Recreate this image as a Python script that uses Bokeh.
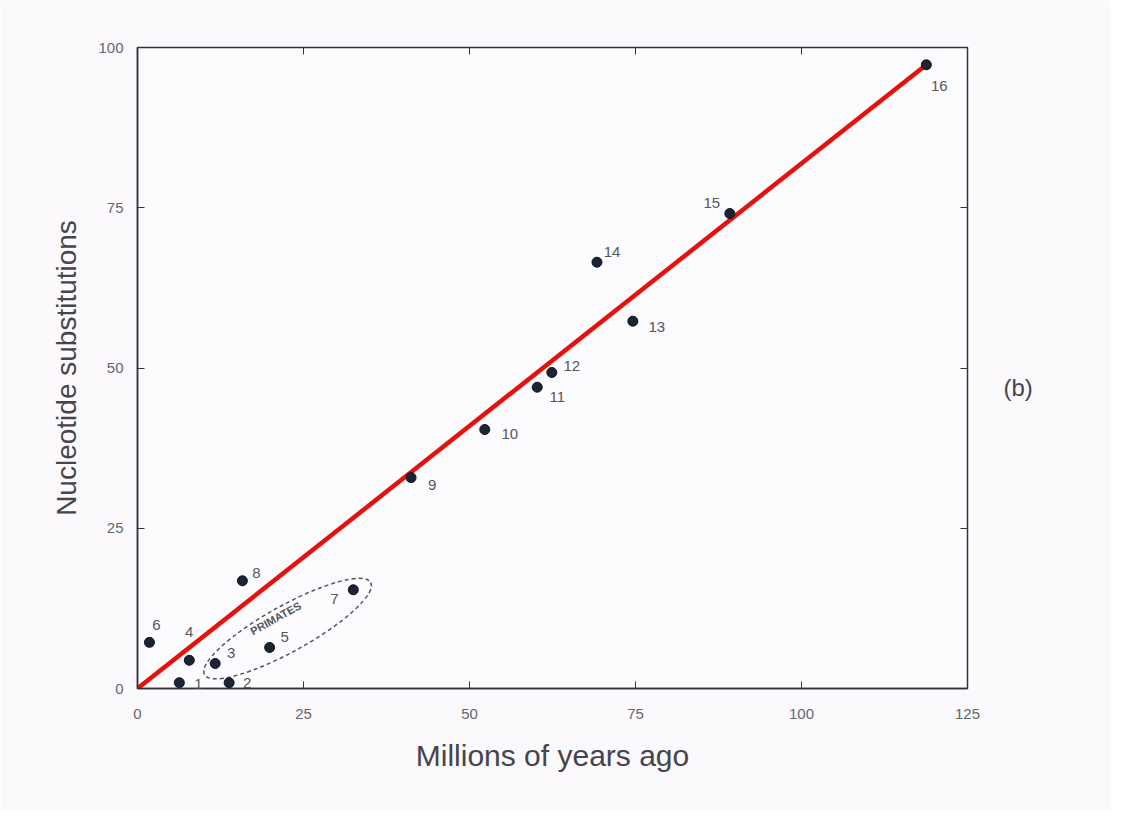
import math
from bokeh.plotting import figure
from bokeh.models import (Range1d, LinearAxis, FixedTicker, ColumnDataSource,
                          LabelSet)
from bokeh.core.properties import value
from bokeh.embed import file_html
from bokeh.resources import INLINE

# ---- data ----
labels = ["1", "2", "3", "4", "5", "6", "7", "8", "9", "10", "11", "12", "13", "14", "15", "16"]
mya = [6.3, 13.8, 11.7, 7.8, 19.9, 1.8, 32.5, 15.8, 41.2, 52.3, 60.2, 62.4, 74.6, 69.2, 89.2, 118.8]
subs = [0.9, 0.9, 3.9, 4.4, 6.4, 7.2, 15.4, 16.8, 32.9, 40.4, 47.0, 49.3, 57.3, 66.5, 74.1, 97.3]
x_ticks = [0, 25, 50, 75, 100, 125]
y_ticks = [0, 25, 50, 75, 100]
panel_tag = "(b)"

# label offsets (screen px, style only)
lab_dx = [19, 18, 16, 0, 15, 7, -19, 14, 21, 25, 20, 20, 24, 15, -18, 13]
lab_dy = [-1, 0, 11, 28, 10, 17, -9, 8, -7, -4, -10, 6, -6, 10, 11, -21]

FONT = "Liberation Sans"
W, H = 1111, 810
p = figure(width=W, height=H, output_backend="svg", toolbar_location=None,
           x_range=Range1d(0, 125), y_range=Range1d(0, 100))
p.min_border_left = 137
p.min_border_right = 144
p.min_border_top = 47
p.min_border_bottom = 122
p.background_fill_color = "#fcfbfd"
p.border_fill_color = "#fbf9fb"
p.grid.visible = False
p.outline_line_color = "#333338"
p.outline_line_width = 1.5

tick_col = "#66666e"
for ax in (p.xaxis[0], p.yaxis[0]):
    ax.axis_line_color = "#333338"
    ax.axis_line_width = 1.5
    ax.major_tick_in = 7
    ax.major_tick_out = 0
    ax.minor_tick_line_color = None
    ax.major_tick_line_color = "#333338"
    ax.major_label_text_font = FONT
    ax.major_label_text_font_size = "15px"
    ax.major_label_text_color = tick_col
    ax.axis_label_text_font = FONT
    ax.axis_label_text_font_style = "normal"
    ax.axis_label_text_color = "#45454c"

p.xaxis[0].ticker = FixedTicker(ticks=x_ticks)
p.yaxis[0].ticker = FixedTicker(ticks=y_ticks)
p.xaxis[0].axis_label = "Millions of years ago"
p.xaxis[0].axis_label_text_font_size = "30px"
p.xaxis[0].major_label_standoff = 20
p.xaxis[0].axis_label_standoff = 17
p.yaxis[0].axis_label = "Nucleotide substitutions"
p.yaxis[0].axis_label_text_font_size = "28px"
p.yaxis[0].major_label_standoff = 14
p.yaxis[0].axis_label_standoff = 13

# mirrored axes top and right (ticks only, no labels)
top = LinearAxis(ticker=FixedTicker(ticks=x_ticks),
                 major_label_overrides={t: "" for t in x_ticks},
                 major_tick_in=7, major_tick_out=0, minor_tick_line_color=None,
                 axis_line_color="#333338", major_tick_line_color="#333338")
right = LinearAxis(ticker=FixedTicker(ticks=y_ticks),
                   major_label_overrides={t: "" for t in y_ticks},
                   major_label_standoff=0,
                   major_tick_in=7, major_tick_out=0, minor_tick_line_color=None,
                   axis_line_color="#333338", major_tick_line_color="#333338")
p.add_layout(top, "above")
p.add_layout(right, "right")

# panel tag "(b)" as a label-only right axis placed at mid height
tag_y = 47
tag_axis = LinearAxis(ticker=FixedTicker(ticks=[tag_y]),
                      major_label_overrides={tag_y: panel_tag},
                      major_label_text_font=FONT, major_label_text_font_size="24px",
                      major_label_text_color="#45454c", major_label_standoff=30,
                      major_tick_line_color=None, minor_tick_line_color=None,
                      axis_line_color=None)
p.add_layout(tag_axis, "right")

# primates enclosure: rotated ellipse around points 3..7
i3 = labels.index("3"); i7 = labels.index("7")
cx = (mya[i3] + mya[i7]) / 2 + 0.5
cy = (subs[i3] + subs[i7]) / 2 - 0.3
p.ellipse(x=[cx], y=[cy], width=190, height=46, width_units="screen", height_units="screen",
          angle=math.radians(29), fill_color=None, line_color="#55555e", line_width=1.5,
          line_dash="4 3")
p.text(x=[cx - 1.8], y=[cy + 1.6], text=["PRIMATES"], angle=math.radians(29),
       text_font_size="11px", text_font_style="bold", text_color="#55555e",
       text_align="center", text_baseline="middle", text_font=value(FONT))

# regression line through origin to the farthest point
p.line([0, mya[-1]], [0, subs[-1]], line_color="#e8100c", line_width=4.5)

src = ColumnDataSource(dict(x=mya, y=subs, t=labels, dx=lab_dx, dy=lab_dy))
p.scatter("x", "y", source=src, size=10, fill_color="#1c2333", line_color="#0d1220",
          line_width=1)
p.add_layout(LabelSet(x="x", y="y", text="t", source=src, x_offset="dx", y_offset="dy",
                      text_font_size="15px", text_color="#55555c", text_align="center",
                      text_baseline="middle", text_font=value(FONT)))

open("out.html", "w").write(file_html(p, INLINE))
